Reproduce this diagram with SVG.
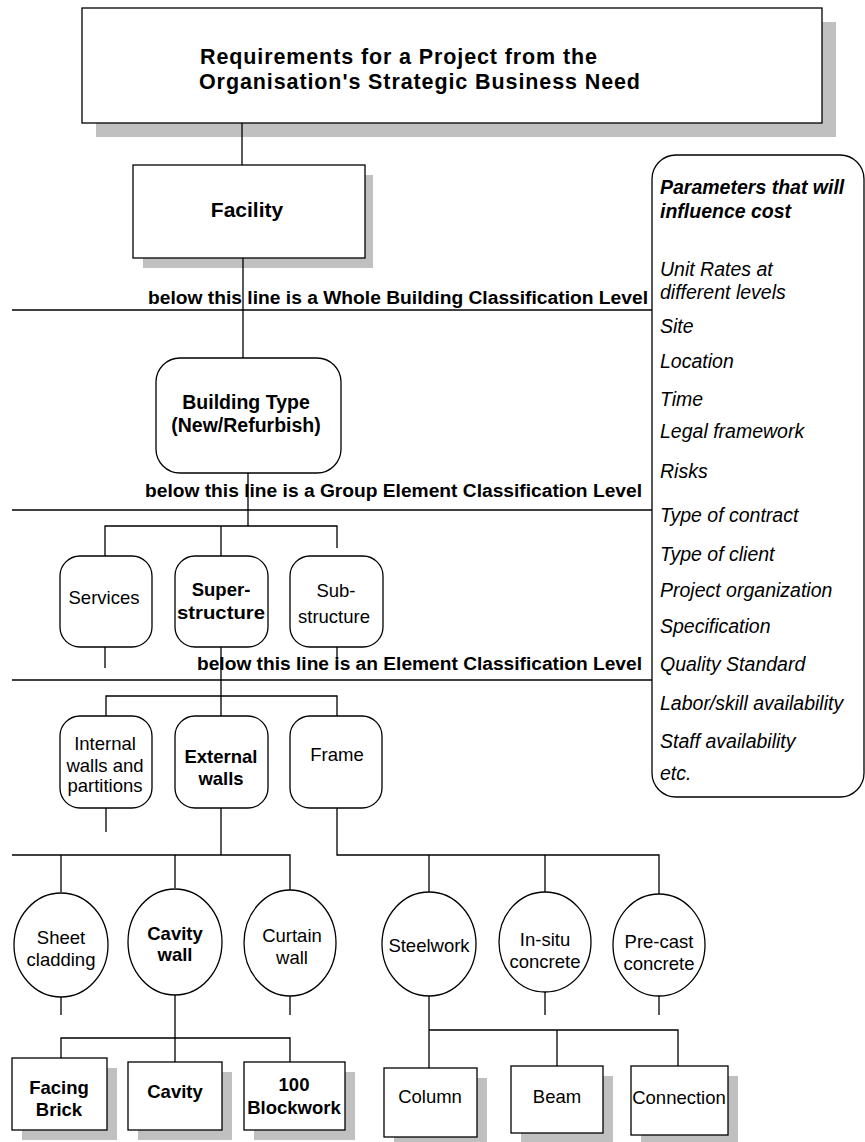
<svg xmlns="http://www.w3.org/2000/svg" width="865" height="1142" viewBox="0 0 865 1142">
  <style>
    .box { fill: #ffffff; stroke: #000000; stroke-width: 1.3; }
    .shadow { fill: #c0c0c0; stroke: none; }
    .wire { fill: none; stroke: #000000; stroke-width: 1.3; }
    .t { font-family: "Liberation Sans", Arial, sans-serif; fill: #000000; text-anchor: middle; }
    .title { font-family: "Liberation Sans", Arial, sans-serif; font-size: 21.5px; font-weight: bold; fill: #000000; text-anchor: start; }
    .n { font-size: 18.5px; }
    .b { font-size: 18.5px; font-weight: bold; }
    .lvl { font-family: "Liberation Sans", Arial, sans-serif; font-size: 18px; font-weight: bold; fill: #000000; }
    .p { font-family: "Liberation Sans", Arial, sans-serif; font-size: 19.5px; font-style: italic; fill: #000000; }
  </style>
  <rect width="865" height="1142" fill="#ffffff"/>

  <!-- level separators and their captions -->
  <g id="levels">
    <line class="wire" x1="12" y1="310" x2="652" y2="310"/>
    <line class="wire" x1="12" y1="510" x2="652" y2="510"/>
    <line class="wire" x1="12" y1="680" x2="652" y2="680"/>
    <text class="lvl" x="148" y="304" textLength="500" lengthAdjust="spacingAndGlyphs">below this line is a Whole Building Classification Level</text>
    <text class="lvl" x="145" y="497" textLength="497" lengthAdjust="spacingAndGlyphs">below this line is a Group Element Classification Level</text>
    <text class="lvl" x="197" y="670" textLength="445" lengthAdjust="spacingAndGlyphs">below this line is an Element Classification Level</text>
  </g>

  <!-- cost parameter panel -->
  <g id="parameters">
    <rect class="box" x="652" y="155" width="212" height="642" rx="24" ry="24"/>
    <text class="p" x="660" y="194" font-weight="bold">Parameters that will</text>
    <text class="p" x="660" y="218" font-weight="bold">influence cost</text>
    <text class="p" x="660" y="276">Unit Rates at</text>
    <text class="p" x="660" y="299">different levels</text>
    <text class="p" x="660" y="333">Site</text>
    <text class="p" x="660" y="368">Location</text>
    <text class="p" x="660" y="406">Time</text>
    <text class="p" x="660" y="438">Legal framework</text>
    <text class="p" x="660" y="478">Risks</text>
    <text class="p" x="660" y="522">Type of contract</text>
    <text class="p" x="660" y="561">Type of client</text>
    <text class="p" x="660" y="597">Project organization</text>
    <text class="p" x="660" y="633">Specification</text>
    <text class="p" x="660" y="671">Quality Standard</text>
    <text class="p" x="660" y="710">Labor/skill availability</text>
    <text class="p" x="660" y="748">Staff availability</text>
    <text class="p" x="660" y="780">etc.</text>
  </g>

  <!-- node shadows -->
  <g id="shadows">
    <rect class="shadow" x="96" y="22" width="740" height="115"/>
    <rect class="shadow" x="143" y="175" width="230" height="93"/>
    <rect class="shadow" x="22" y="1068" width="95" height="72"/>
    <rect class="shadow" x="138" y="1072" width="94" height="68"/>
    <rect class="shadow" x="254" y="1072" width="101" height="68"/>
    <rect class="shadow" x="394" y="1078" width="93" height="69"/>
    <rect class="shadow" x="521" y="1076" width="92" height="67"/>
    <rect class="shadow" x="641" y="1076" width="97" height="69"/>
  </g>

  <!-- connectors -->
  <g id="connectors">
    <line class="wire" x1="242" y1="123" x2="242" y2="165"/>
    <line class="wire" x1="243" y1="254" x2="243" y2="358"/>
    <polyline class="wire" points="248,473 248,526"/>
    <polyline class="wire" points="105,556 105,526 337,526 337,548"/>
    <line class="wire" x1="221" y1="526" x2="221" y2="556"/>
    <line class="wire" x1="105" y1="647" x2="105" y2="668"/>
    <line class="wire" x1="337" y1="647" x2="337" y2="664"/>
    <line class="wire" x1="221" y1="647" x2="221" y2="696"/>
    <polyline class="wire" points="106,716 106,696 337,696 337,716"/>
    <line class="wire" x1="221" y1="696" x2="221" y2="716"/>
    <line class="wire" x1="106" y1="808" x2="106" y2="832"/>
    <line class="wire" x1="221" y1="808" x2="221" y2="855"/>
    <polyline class="wire" points="12,855 290,855 290,890"/>
    <line class="wire" x1="61" y1="855" x2="61" y2="892"/>
    <line class="wire" x1="175" y1="855" x2="175" y2="888"/>
    <polyline class="wire" points="337,808 337,855 659,855 659,894"/>
    <line class="wire" x1="429" y1="855" x2="429" y2="892"/>
    <line class="wire" x1="545" y1="855" x2="545" y2="892"/>
    <line class="wire" x1="61" y1="997" x2="61" y2="1015"/>
    <line class="wire" x1="290" y1="996" x2="290" y2="1015"/>
    <line class="wire" x1="545" y1="992" x2="545" y2="1015"/>
    <line class="wire" x1="659" y1="996" x2="659" y2="1015"/>
    <line class="wire" x1="175" y1="995" x2="175" y2="1062"/>
    <polyline class="wire" points="61,1058 61,1038 290,1038 290,1062"/>
    <line class="wire" x1="429" y1="996" x2="429" y2="1068"/>
    <polyline class="wire" points="429,1030 678,1030 678,1066"/>
    <line class="wire" x1="557" y1="1030" x2="557" y2="1066"/>
  </g>

  <g id="requirements">
    <rect class="box" x="82" y="8" width="740" height="115"/>
    <text class="title" x="200" y="64" textLength="397" lengthAdjust="spacing">Requirements for a Project from the</text>
    <text class="title" x="199" y="89" textLength="441" lengthAdjust="spacing">Organisation's Strategic Business Need</text>
  </g>

  <g id="facility">
    <rect class="box" x="133" y="165" width="232" height="93"/>
    <text class="t" x="247" y="217" font-size="21" font-weight="bold">Facility</text>
  </g>

  <g id="building-type">
    <rect class="box" x="156" y="358" width="185" height="115" rx="24" ry="24"/>
    <text class="t" x="246" y="409" font-size="19.5" font-weight="bold">Building Type</text>
    <text class="t" x="246" y="432" font-size="19.5" font-weight="bold">(New/Refurbish)</text>
  </g>

  <g id="services">
    <rect class="box" x="60" y="556" width="92" height="91" rx="20" ry="20"/>
    <text class="t n" x="104" y="604">Services</text>
  </g>
  <g id="superstructure">
    <rect class="box" x="175" y="556" width="93" height="91" rx="20" ry="20"/>
    <text class="t b" x="221" y="596">Super-</text>
    <text class="t b" x="221" y="619" textLength="88" lengthAdjust="spacingAndGlyphs">structure</text>
  </g>
  <g id="substructure">
    <rect class="box" x="290" y="556" width="93" height="91" rx="20" ry="20"/>
    <text class="t n" x="336" y="597">Sub-</text>
    <text class="t n" x="334" y="623">structure</text>
  </g>

  <g id="internal-walls">
    <rect class="box" x="60" y="716" width="92" height="92" rx="20" ry="20"/>
    <text class="t n" x="105" y="750">Internal</text>
    <text class="t n" x="105" y="772">walls and</text>
    <text class="t n" x="105" y="792">partitions</text>
  </g>
  <g id="external-walls">
    <rect class="box" x="175" y="716" width="93" height="92" rx="20" ry="20"/>
    <text class="t b" x="221" y="763">External</text>
    <text class="t b" x="221" y="785">walls</text>
  </g>
  <g id="frame">
    <rect class="box" x="290" y="716" width="92" height="92" rx="20" ry="20"/>
    <text class="t n" x="337" y="761">Frame</text>
  </g>

  <g id="sheet-cladding">
    <ellipse class="box" cx="61" cy="945" rx="47" ry="52"/>
    <text class="t n" x="61" y="944">Sheet</text>
    <text class="t n" x="61" y="966">cladding</text>
  </g>
  <g id="cavity-wall">
    <ellipse class="box" cx="175" cy="942" rx="47" ry="53"/>
    <text class="t b" x="175" y="940">Cavity</text>
    <text class="t b" x="175" y="961">wall</text>
  </g>
  <g id="curtain-wall">
    <ellipse class="box" cx="290" cy="943" rx="46" ry="53"/>
    <text class="t n" x="292" y="942">Curtain</text>
    <text class="t n" x="292" y="964">wall</text>
  </g>
  <g id="steelwork">
    <ellipse class="box" cx="429" cy="944" rx="47" ry="52"/>
    <text class="t n" x="429" y="952">Steelwork</text>
  </g>
  <g id="insitu-concrete">
    <ellipse class="box" cx="545" cy="942" rx="46" ry="50"/>
    <text class="t n" x="545" y="946">In-situ</text>
    <text class="t n" x="545" y="968">concrete</text>
  </g>
  <g id="precast-concrete">
    <ellipse class="box" cx="659" cy="945" rx="46" ry="51"/>
    <text class="t n" x="659" y="948">Pre-cast</text>
    <text class="t n" x="659" y="970">concrete</text>
  </g>

  <g id="facing-brick">
    <rect class="box" x="12" y="1058" width="95" height="72"/>
    <text class="t b" x="59" y="1094">Facing</text>
    <text class="t b" x="59" y="1116">Brick</text>
  </g>
  <g id="cavity">
    <rect class="box" x="128" y="1062" width="94" height="68"/>
    <text class="t b" x="175" y="1098">Cavity</text>
  </g>
  <g id="blockwork">
    <rect class="box" x="244" y="1062" width="101" height="68"/>
    <text class="t b" x="294" y="1091">100</text>
    <text class="t b" x="294" y="1114">Blockwork</text>
  </g>
  <g id="column">
    <rect class="box" x="384" y="1068" width="93" height="69"/>
    <text class="t n" x="430" y="1103">Column</text>
  </g>
  <g id="beam">
    <rect class="box" x="511" y="1066" width="92" height="67"/>
    <text class="t n" x="557" y="1103">Beam</text>
  </g>
  <g id="connection">
    <rect class="box" x="631" y="1066" width="97" height="69"/>
    <text class="t n" x="679" y="1104">Connection</text>
  </g>
</svg>
